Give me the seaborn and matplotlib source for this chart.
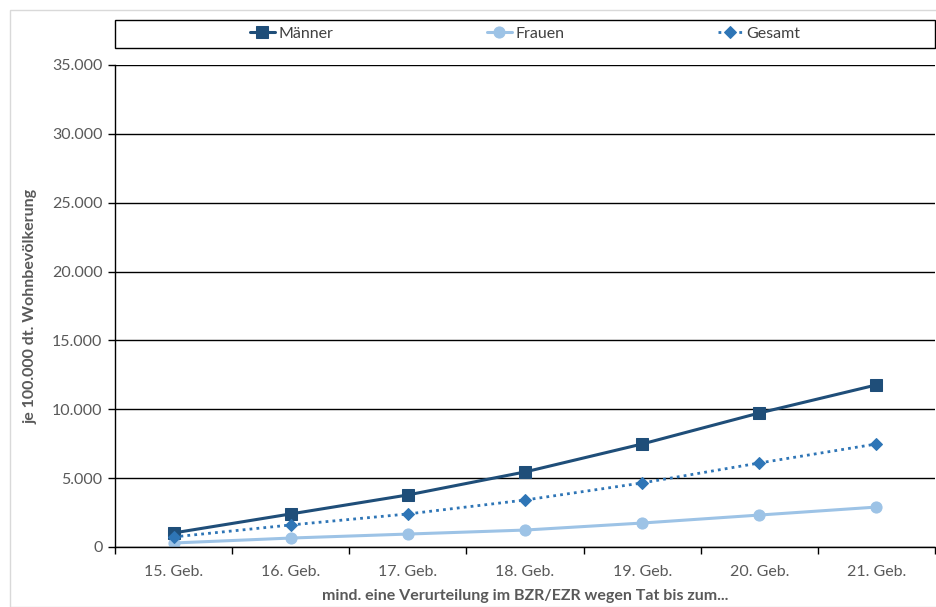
import matplotlib
matplotlib.use("Agg")
import matplotlib.pyplot as plt
import seaborn as sns
import pandas as pd
from matplotlib.patches import Rectangle
from matplotlib.ticker import FuncFormatter

categories = ["15. Geb.", "16. Geb.", "17. Geb.", "18. Geb.", "19. Geb.", "20. Geb.", "21. Geb."]
maenner = [1020, 2400, 3780, 5450, 7480, 9730, 11770]
frauen = [290, 650, 940, 1230, 1740, 2320, 2900]
gesamt = [730, 1600, 2400, 3410, 4650, 6100, 7480]

sns.set_theme(style="white")
plt.rcParams['font.family'] = ['Lato', 'DejaVu Sans']

fig = plt.figure(figsize=(9.36, 6.07), dpi=100)
ax = fig.add_axes([115/936, 1-547/607, 820/936, 482/607])

fig.patches.append(Rectangle((10/936, 0), 0.99, 1-10/607, transform=fig.transFigure,
                             fill=False, edgecolor="#d9d9d9", lw=1))
fig.patches.append(Rectangle((115/936, 1-48/607), 820/936, 28/607, transform=fig.transFigure,
                             fill=False, edgecolor="black", lw=1))

df = pd.DataFrame({"cat": categories, "Männer": maenner, "Frauen": frauen, "Gesamt": gesamt})
df["x"] = range(len(categories))

sns.lineplot(data=df, x="x", y="Männer", ax=ax, color="#1F4E79", lw=2.2, marker="s",
             markersize=8, markeredgecolor="#1F4E79", label="Männer")
sns.lineplot(data=df, x="x", y="Frauen", ax=ax, color="#9DC3E6", lw=2.2, marker="o",
             markersize=8, markeredgecolor="#9DC3E6", label="Frauen")
sns.lineplot(data=df, x="x", y="Gesamt", ax=ax, color="#2E75B6", lw=2, ls=(0, (1, 1.5)), marker="D",
             markersize=6, markeredgecolor="#2E75B6", label="Gesamt")

ax.set_xlim(-0.5, len(categories) - 0.5)
ax.set_ylim(0, 35000)
ax.set_yticks(range(0, 35001, 5000))
ax.yaxis.set_major_formatter(FuncFormatter(lambda v, p: f"{int(v):,}".replace(",", ".")))
ax.set_xticks(range(len(categories)))
ax.set_xticklabels(categories)
ax.set_xticks([i - 0.5 for i in range(len(categories) + 1)], minor=True)
ax.tick_params(axis="x", which="major", length=0, pad=13, labelsize=11.5, labelcolor="#595959")
ax.tick_params(axis="x", which="minor", length=5, width=1, color="black", direction="out", bottom=True)
ax.tick_params(axis="y", length=5, width=1, color="black", direction="out", left=True,
               labelsize=11.5, labelcolor="#595959", pad=4)
ax.grid(axis="y", color="black", lw=1)
ax.set_axisbelow(True)
for s in ["top", "right"]:
    ax.spines[s].set_visible(False)
for s in ["left", "bottom"]:
    ax.spines[s].set_color("black")
    ax.spines[s].set_linewidth(1)

ax.set_xlabel("mind. eine Verurteilung im BZR/EZR wegen Tat bis zum...", fontsize=11.5,
              fontweight="bold", color="#595959", labelpad=7)
ax.set_ylabel("je 100.000 dt. Wohnbevölkerung", fontsize=11.5, fontweight="bold",
              color="#595959", labelpad=10)

ax.get_legend().remove()
handles, labels = ax.get_legend_handles_labels()
leg = fig.legend(handles, labels, loc="center", ncol=3,
                 bbox_to_anchor=(525/936, 1-34/607),
                 frameon=False, fontsize=11.5,
                 handlelength=1.6, handletextpad=0.2, columnspacing=9.6,
                 borderaxespad=0, labelcolor="#404040")

fig.savefig("out.png", dpi=100)
